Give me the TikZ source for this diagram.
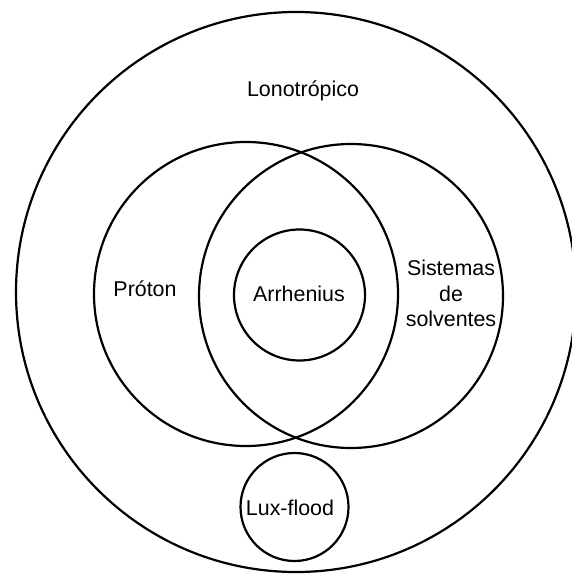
\documentclass[tikz,border=0pt]{standalone}
\usepackage{fontspec}
\setmainfont{Liberation Sans}
\begin{document}
\begin{tikzpicture}[x=1pt,y=-1pt,
  ring/.style={circle,draw,line width=2.2pt,inner sep=0pt,minimum size=#1},
  lbl/.style={font=\fontsize{21.4}{25.5}\selectfont,align=center,inner sep=0pt}]
\useasboundingbox (0,0) rectangle (571,575);
\node[ring=560pt] (lono) at (296,292) {};
\node[ring=304pt] (proton) at (246,294) {};
\node[ring=304pt] (solv) at (351,296) {};
\node[ring=131pt] (arr) at (299.5,295) {};
\node[ring=108pt] (lux) at (294.5,507) {};
\node[lbl,anchor=base] (tlono) at (303,96.5) {Lonotrópico};
\node[lbl,anchor=base] (tproton) at (145,296.7) {Próton};
\node[lbl,anchor=base] (tarr) at (299,301) {Arrhenius};
\node[lbl,anchor=base] (tsolv) at (451,326.7) {Sistemas\\de\\solventes};
\node[lbl,anchor=base] (tlux) at (290,515) {Lux-flood};
\end{tikzpicture}
\end{document}
